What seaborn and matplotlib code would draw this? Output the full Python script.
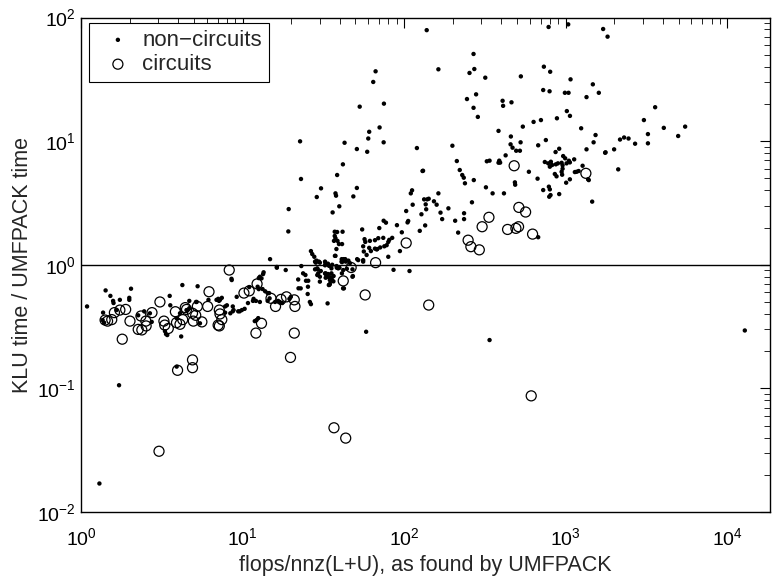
import pandas as pd
import matplotlib
matplotlib.use("Agg")
import matplotlib.pyplot as plt
import matplotlib.ticker as mticker
import seaborn as sns

# ----------------------
# Data
# ----------------------

# non-circuit matrices: (flops/nnz(L+U), KLU time / UMFPACK time)
nc_low_left = [(1.09, 0.46), (1.42, 0.62), (1.52, 0.56), (1.58, 0.51), (1.59, 0.49), (1.74, 0.52),
               (1.99, 0.54), (1.99, 0.52), (2.04, 0.64), (1.37, 0.41), (1.36, 0.357), (1.39, 0.34),
               (1.66, 0.43), (2.26, 0.39), (2.46, 0.42), (2.67, 0.405), (2.74, 0.345), (3.31, 0.29),
               (3.42, 0.27), (3.36, 0.275), (3.54, 0.56), (3.57, 0.47), (3.9, 0.37), (4.1, 0.405),
               (4.24, 0.685), (4.17, 0.263), (4.5, 0.43), (4.68, 0.445), (4.68, 0.51), (5.15, 0.50),
               (5.2, 0.50), (5.27, 0.67), (5.45, 0.336), (6.15, 0.52), (3.91, 0.15), (1.72, 0.106),
               (1.3, 0.017)]

nc_low_mid = [(6.9, 0.52), (7.07, 0.53), (7.15, 0.51), (7.25, 0.52), (7.44, 0.54), (7.8, 0.46),
              (7.8, 0.41), (8.0, 0.47), (8.4, 0.405), (8.54, 0.77), (8.57, 0.752), (8.7, 0.46),
              (8.7, 0.42), (8.8, 0.43), (9.2, 0.55), (9.4, 0.42), (9.6, 0.42), (9.9, 0.43),
              (10.3, 0.44), (10.8, 0.49), (11.0, 0.66), (11.6, 0.51), (11.7, 0.53), (11.9, 0.35),
              (12.1, 0.51), (12.2, 0.357), (12.5, 0.37), (12.4, 0.664), (12.6, 0.78), (12.6, 0.635),
              (12.8, 0.80), (12.8, 0.50), (13.1, 0.776), (13.3, 0.636), (13.4, 0.84), (13.5, 0.869),
              (13.8, 0.61), (14.3, 0.51), (14.3, 0.59), (14.6, 0.59), (14.7, 0.535), (14.8, 1.11),
              (15.9, 0.50), (16.3, 0.946), (16.3, 0.96), (16.6, 0.51), (17.0, 0.50), (17.6, 0.49),
              (18.5, 0.906), (19.5, 0.53), (19.9, 0.55), (22.1, 0.76), (22.2, 0.645), (22.9, 0.644),
              (23.1, 0.976), (23.7, 0.852), (24.5, 0.826), (24.7, 0.742), (25.5, 0.742), (25.4, 0.664),
              (25.3, 0.58), (26.1, 0.50), (26.5, 0.48)]

nc_near_one = [(26.5, 1.29), (27.0, 1.22), (27.8, 1.16), (28.7, 1.08), (28.4, 1.04), (30.1, 1.04),
               (32.4, 0.99), (34.3, 0.98), (35.5, 0.935), (28.1, 0.918), (29.0, 0.935), (29.4, 0.852),
               (32.4, 0.852), (33.6, 0.80), (34.7, 0.752), (30.1, 0.73), (34.2, 0.685), (35.5, 0.852),
               (36.6, 0.81), (37.3, 1.18), (29.2, 0.918), (32.7, 0.841), (33.9, 0.841), (34.7, 0.791),
               (35.3, 0.742), (34.7, 0.698), (38.2, 0.976), (39.1, 0.935), (42.0, 0.906), (42.4, 0.644),
               (46.2, 1.03), (48.2, 0.81), (52.0, 1.09), (55.8, 1.06), (29.0, 0.826), (28.1, 1.06),
               (29.7, 1.06), (32.4, 1.06), (41.0, 1.06), (43.2, 1.09), (32.6, 1.03), (33.8, 1.02),
               (35.9, 1.0), (30.5, 0.89), (30.1, 0.80), (32.8, 0.85), (32.7, 0.785), (35.3, 0.79),
               (35.7, 0.76), (38.3, 0.946), (39.8, 0.946), (41.2, 0.852), (47.9, 0.80), (47.9, 0.918),
               (44.2, 0.928), (36.5, 0.734), (34.5, 0.689), (41.9, 0.644), (33.6, 0.487), (37.2, 1.85),
               (38.5, 1.84), (41.6, 1.85), (37.2, 1.71), (37.6, 1.64), (36.8, 1.56), (38.7, 1.56),
               (39.5, 1.47), (41.3, 1.47), (38.1, 1.34), (37.6, 1.18), (41.1, 1.11), (42.3, 1.11),
               (43.2, 1.11), (43.5, 1.06), (41.3, 1.05), (45.2, 1.08), (51.2, 1.11), (55.0, 1.93),
               (56.9, 1.61), (57.5, 1.53), (55.8, 1.41), (56.3, 1.28), (58.6, 1.20), (55.8, 1.09),
               (60.8, 1.37), (61.4, 1.56), (66, 1.58), (69.2, 1.64), (74.3, 1.65), (71.1, 1.38),
               (67.6, 1.33), (75.4, 1.41), (78, 1.44), (79.8, 1.53), (80.9, 1.59), (62.3, 1.29),
               (66, 1.35), (68.2, 1.34), (70.2, 1.98), (74.7, 2.27), (77.2, 2.19), (84.4, 1.65),
               (90.3, 2.09), (96.8, 1.83), (94.2, 1.29), (79.8, 1.16), (86, 0.91), (108, 0.89),
               (19.2, 1.86)]

nc_rise = [(103, 2.72), (106, 2.26), (105, 2.20), (112, 4.0), (110, 3.78), (113, 3.06), (125, 1.88),
           (135, 2.08), (128, 2.56), (137, 2.81), (136, 3.08), (133, 3.38), (139, 3.38), (142, 3.42),
           (153, 3.26), (159, 3.06), (163, 3.78), (172, 2.34), (168, 2.64), (188, 2.86), (130, 5.73),
           (207, 2.27), (235, 2.61), (235, 2.34), (216, 1.82), (238, 4.56), (270, 4.84), (321, 4.23),
           (353, 3.78), (415, 3.78), (263, 3.20), (485, 4.64), (487, 4.44), (212, 6.9), (221, 5.84),
           (229, 5.32), (234, 5.06), (30.6, 4.15), (37.6, 3.78), (37.9, 3.62), (51.0, 4.18),
           (48.5, 3.57), (39.7, 2.97), (36.1, 2.65), (38.5, 5.32), (28.8, 3.53), (19.3, 2.82),
           (23, 4.94), (41.8, 6.49)]

nc_upper = [(138, 79), (163, 38.1), (269, 50.7), (272, 38.3), (254, 35.6), (66.6, 36.7), (64.4, 30.1),
            (53.1, 19.0), (75, 20.1), (279, 23.9), (245, 21.9), (269, 18.6), (286, 15.7), (318, 32.6),
            (407, 21.2), (410, 19.3), (462, 20.6), (384, 12.1), (425, 7.67), (325, 6.87), (338, 6.95),
            (384, 6.69), (388, 6.95), (393, 6.7), (458, 10.9), (469, 8.85), (456, 9.42), (494, 8.36),
            (22.7, 9.96), (42.8, 9.7), (51, 8.63), (59.1, 8.2), (60, 10.5), (60.8, 11.9), (70.5, 12.9),
            (74.7, 9.78), (120, 8.79), (199, 9.18), (131, 5.76)]

nc_right = [(521, 8.36), (526, 9.78), (543, 13.1), (633, 14.3), (703, 14.8), (883, 15.3), (1017, 17.5),
            (1063, 16.0), (1247, 12.7), (1531, 11.2), (1489, 9.78), (1766, 8.12), (1346, 8.58),
            (676, 9.25), (754, 10.2), (866, 8.16), (912, 8.68), (592, 5.65), (670, 4.97), (743, 6.78),
            (780, 6.61), (810, 6.81), (825, 6.41), (798, 6.21), (869, 6.49), (895, 6.61), (944, 6.68),
            (965, 7.57), (993, 7.26), (957, 6.37), (1013, 6.61), (1047, 6.94), (1062, 6.73),
            (1129, 7.12), (1140, 5.62), (1169, 5.65), (1203, 5.73), (1273, 6.32), (957, 5.98),
            (944, 5.65), (857, 5.42), (878, 5.19), (951, 5.35), (1007, 4.61), (1062, 4.91),
            (1377, 4.91), (1459, 3.24), (787, 4.28), (798, 4.07), (791, 3.55), (806, 3.66),
            (912, 3.73), (726, 4.02), (676, 1.67), (1390, 4.84), (3580, 18.8), (3050, 14.8),
            (4050, 12.8), (5490, 13.1), (4970, 11.0), (3230, 11.4), (3230, 9.6), (2690, 9.53),
            (2450, 10.5), (2300, 10.7), (2170, 10.3), (1995, 8.58), (1755, 8.05), (2115, 5.91),
            (784, 83.8), (1037, 88), (1706, 80.7), (1817, 70), (733, 40), (802, 36.4), (528, 33.4),
            (1072, 31.6), (1473, 28.8), (1604, 24.6), (1346, 22.7), (726, 25.9), (795, 25.3),
            (989, 24.6), (1042, 24.6)]

nc_outliers = [(58.2, 0.287), (338, 0.246), (12850, 0.294)]

# circuit matrices
circ_left = [(1.41, 0.357), (1.46, 0.35), (1.55, 0.36), (1.61, 0.41), (1.74, 0.43), (1.89, 0.435),
             (2.01, 0.35), (1.80, 0.25), (2.35, 0.385), (2.26, 0.30), (2.38, 0.297), (2.52, 0.35),
             (2.53, 0.32), (2.75, 0.41), (3.08, 0.50), (3.26, 0.35), (3.30, 0.325), (3.47, 0.305),
             (3.84, 0.417), (3.9, 0.34), (4.10, 0.33), (4.26, 0.36), (4.42, 0.45), (4.5, 0.435),
             (4.9, 0.405), (5.13, 0.39), (4.96, 0.35), (5.25, 0.46), (5.6, 0.345), (6.08, 0.46),
             (6.2, 0.605), (4.9, 0.17), (4.9, 0.147), (3.96, 0.14), (3.04, 0.031)]

circ_mid = [(8.27, 0.906), (7.18, 0.43), (7.25, 0.40), (7.44, 0.36), (7.06, 0.325), (7.18, 0.32),
            (10.2, 0.59), (11.0, 0.615), (12.3, 0.70), (12.1, 0.28), (13.1, 0.336), (15.0, 0.535),
            (16.0, 0.46), (17.3, 0.525), (18.7, 0.55), (20.9, 0.52), (21.1, 0.46), (20.9, 0.28),
            (19.8, 0.178), (47.0, 0.95), (66.6, 1.04), (103, 1.50), (42.0, 0.74), (57.4, 0.57),
            (142, 0.472), (36.8, 0.048), (43.5, 0.0396)]

circ_right = [(612, 0.087), (480, 6.32), (513, 2.91), (565, 2.67), (335, 2.42), (304, 2.03),
              (249, 1.58), (259, 1.40), (292, 1.32), (437, 1.93), (492, 1.97), (511, 2.03),
              (624, 1.77), (1334, 5.49)]

x_limits = (1, 1.84e4)
y_limits = (1e-2, 1e2)

# ----------------------
# Build frames
# ----------------------

nc = pd.DataFrame(nc_low_left + nc_low_mid + nc_near_one + nc_rise + nc_upper + nc_right + nc_outliers,
                  columns=["flops", "ratio"])
circ = pd.DataFrame(circ_left + circ_mid + circ_right, columns=["flops", "ratio"])

# ----------------------
# Plot
# ----------------------

sns.set_style("white")
plt.rcParams["font.family"] = ["Liberation Sans", "DejaVu Sans"]

fig = plt.figure(figsize=(7.73, 5.85), dpi=100)
ax = fig.add_axes([81 / 773, 1 - 512 / 585, 689 / 773, 494.5 / 585])

sns.scatterplot(data=nc, x="flops", y="ratio", ax=ax, marker="o", s=10, color="black",
                edgecolor="none", label="non\u2212circuits", zorder=3)
sns.scatterplot(data=circ, x="flops", y="ratio", ax=ax, marker="o", s=52, facecolors="none",
                edgecolors="black", linewidth=0.9, label="circuits", zorder=4)

ax.axhline(1, color="black", lw=1.0, zorder=2)

ax.set_xscale("log")
ax.set_yscale("log")
ax.set_xlim(*x_limits)
ax.set_ylim(*y_limits)

ax.xaxis.set_major_locator(mticker.LogLocator(base=10, numticks=10))
ax.yaxis.set_major_locator(mticker.LogLocator(base=10, numticks=10))
ax.xaxis.set_minor_locator(mticker.LogLocator(base=10, subs=range(2, 10), numticks=20))
ax.yaxis.set_minor_locator(mticker.LogLocator(base=10, subs=range(2, 10), numticks=20))
ax.xaxis.set_minor_formatter(mticker.NullFormatter())
ax.yaxis.set_minor_formatter(mticker.NullFormatter())

ax.tick_params(which="both", direction="in", top=True, right=True, colors="black", labelsize=14)
ax.tick_params(which="major", length=7, width=0.8)
ax.tick_params(which="minor", length=4, width=0.6)
ax.tick_params(axis="x", which="major", pad=11)
ax.tick_params(axis="y", which="major", pad=4)
for sp in ax.spines.values():
    sp.set_color("black")
    sp.set_linewidth(1.0)

ax.set_xlabel("flops/nnz(L+U), as found by UMFPACK", fontsize=15.5, labelpad=4)
ax.set_ylabel("KLU time / UMFPACK time", fontsize=15.5, labelpad=3)

leg = ax.legend(loc="upper left", bbox_to_anchor=(8 / 689, 1 - 5.5 / 494.5), borderaxespad=0,
                fontsize=16, frameon=True, fancybox=False, edgecolor="black", framealpha=1,
                handletextpad=0.1, borderpad=0.3, labelspacing=0.15, handlelength=2.0,
                scatterpoints=1)
leg.get_frame().set_linewidth(0.8)

fig.savefig("out.png", dpi=100)
